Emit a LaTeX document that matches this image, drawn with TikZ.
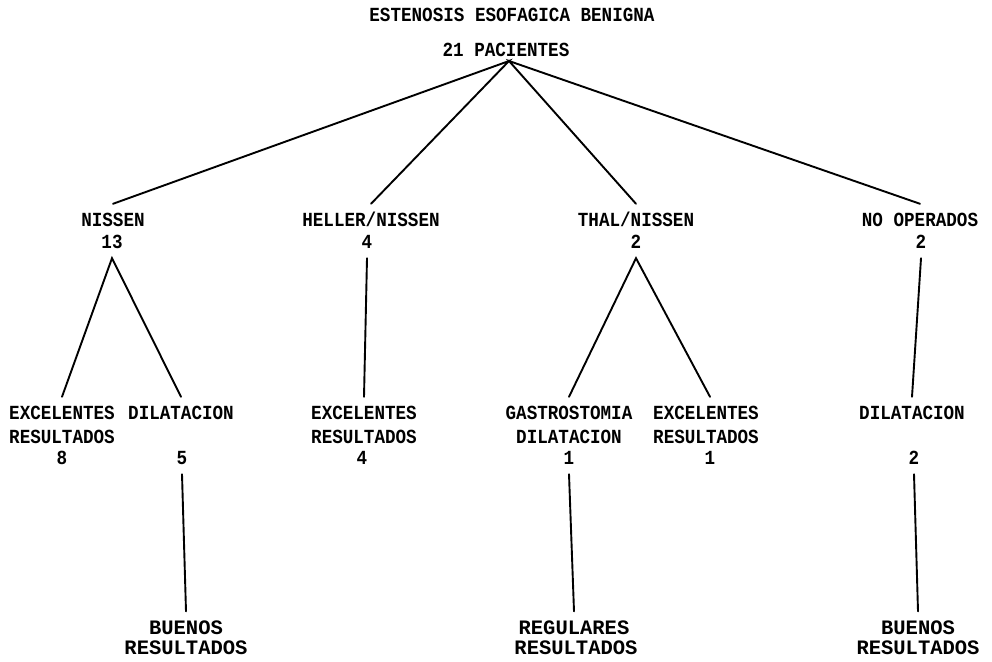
\documentclass[tikz,border=0pt]{standalone}
\usepackage{fontspec}
\newfontfamily\tw{Liberation Mono}
\newfontfamily\twn{Liberation Mono}[FakeStretch=0.88]
\tikzset{
  lbl/.style={font=\twn\bfseries\fontsize{20}{22}\selectfont, text height=13pt, text depth=0pt, inner xsep=1pt, inner ysep=9.5pt},
  big/.style={font=\tw\bfseries\fontsize{20.5}{24}\selectfont, text height=13pt, text depth=0pt, inner xsep=1pt, inner ysep=10pt},
  conn/.style={line width=1.9pt, line cap=round}
}
\begin{document}
\begin{tikzpicture}[x=1pt,y=-1pt]
\useasboundingbox (0,0) rectangle (992,661);
% title
\node[lbl] (title) at (512,15) {ESTENOSIS ESOFAGICA BENIGNA};
\node[lbl, inner ysep=4.5pt] (pac) at (506,50) {21 PACIENTES};
\coordinate (apex) at (509,61);
% level 1
\node[lbl] (nissen) at (113,220) {NISSEN};
\node[lbl] (n13) at (112,242) {13};
\node[lbl] (heller) at (371,220) {HELLER/NISSEN};
\node[lbl] (h4) at (367,242) {4};
\node[lbl] (thal) at (636,220) {THAL/NISSEN};
\node[lbl] (t2) at (636,242) {2};
\node[lbl] (noop) at (920,220) {NO OPERADOS};
\node[lbl] (no2) at (921,242) {2};
% level 2
\node[lbl] (ex1) at (62,413) {EXCELENTES};
\node[lbl] (ex1b) at (62,437) {RESULTADOS};
\node[lbl] (e8) at (62,458) {8};
\node[lbl] (dil1) at (181,413) {DILATACION};
\node[lbl] (d5) at (182,458) {5};
\node[lbl] (ex2) at (364,413) {EXCELENTES};
\node[lbl] (ex2b) at (364,437) {RESULTADOS};
\node[lbl] (e4) at (362,458) {4};
\node[lbl] (gast) at (569,413) {GASTROSTOMIA};
\node[lbl] (gastb) at (569,437) {DILATACION};
\node[lbl] (g1) at (569,458) {1};
\node[lbl] (ex3) at (706,413) {EXCELENTES};
\node[lbl] (ex3b) at (706,437) {RESULTADOS};
\node[lbl] (e1) at (710,458) {1};
\node[lbl] (dil2) at (912,413) {DILATACION};
\node[lbl] (d2) at (914,458) {2};
% level 3
\node[big] (bu1) at (186,628) {BUENOS};
\node[big] (bu1b) at (186,648) {RESULTADOS};
\node[big] (reg) at (574,628) {REGULARES};
\node[big] (regb) at (576,648) {RESULTADOS};
\node[big] (bu2) at (918,628) {BUENOS};
\node[big] (bu2b) at (918,648) {RESULTADOS};
% connectors
\draw[conn] (nissen.north) -- (apex) -- (heller.north);
\draw[conn] (thal.north) -- (apex) -- (noop.north);
\draw[conn] (ex1.north) -- (n13.south) -- (dil1.north);
\draw[conn] (h4.south) -- (ex2.north);
\draw[conn] (gast.north) -- (t2.south) -- (e1.north |- ex3.north);
\draw[conn] (no2.south) -- (dil2.north);
\draw[conn] (d5.south) -- (bu1.north);
\draw[conn] (g1.south) -- (reg.north);
\draw[conn] (d2.south) -- (bu2.north);
\end{tikzpicture}
\end{document}
